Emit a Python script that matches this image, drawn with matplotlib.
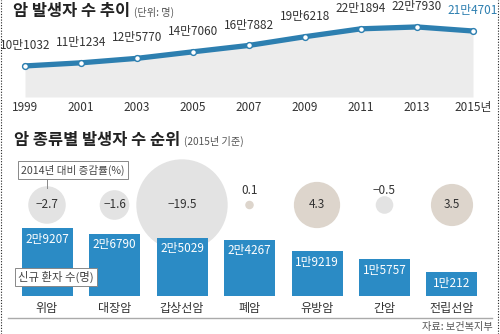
import matplotlib
matplotlib.use('Agg')
import matplotlib.pyplot as plt
from matplotlib.lines import Line2D
from matplotlib.transforms import blended_transform_factory

plt.rcParams['font.family'] = ['Noto Sans CJK KR', 'DejaVu Sans']

# 암 발생자 수 추이
years = [1999, 2001, 2003, 2005, 2007, 2009, 2011, 2013, 2015]
patients = [101032, 111234, 125770, 147060, 167882, 196218, 221894, 227930, 214701]
year_labels = ['1999', '2001', '2003', '2005', '2007', '2009', '2011', '2013', '2015년']

# 암 종류별 (2015년 기준)
cancers = ['위암', '대장암', '갑상선암', '폐암', '유방암', '간암', '전립선암']
new_cases = [29207, 26790, 25029, 24267, 19219, 15757, 10212]
change = [-2.7, -1.6, -19.5, 0.1, 4.3, -0.5, 3.5]

W, H = 500, 334
DARK = '#333333'
LINE_C = '#2d7fb0'
BAR_C = '#2b8bc5'


def man(v):
    return '%d만%d' % (v // 10000, v % 10000)


def px_axes(fig, left, top, right, bottom):
    return fig.add_axes([left / W, 1 - bottom / H, (right - left) / W, (bottom - top) / H])


fig = plt.figure(figsize=(W / 100, H / 100), dpi=100)

# ---- 추이 선그래프 ----
ax1 = px_axes(fig, 0, 20, 500, 97)
x0, step = 25, 28.0
ax1.set_xlim(years[0] - x0 / step, years[0] + (W - x0) / step)
ax1.set_ylim(0, 77 * 3254)
ax1.fill_between(years, patients, 0, color='#ececec', lw=0, zorder=1)
ax1.plot(years, patients, color=LINE_C, lw=3.8, solid_capstyle='round', zorder=2)
ax1.plot(years, patients, 'o', ms=4.2, mfc='white', mec=LINE_C, mew=1.0, zorder=3)
for i, (x, y) in enumerate(zip(years, patients)):
    c = LINE_C if i == len(years) - 1 else DARK
    ax1.annotate(man(y), (x, y), xytext=(0, 10), textcoords='offset points',
                 ha='center', va='bottom', fontsize=8.5, color=c, clip_on=False)
ax1.set_xticks(years)
ax1.set_xticklabels(year_labels, fontsize=8.5, color=DARK)
ax1.tick_params(axis='x', length=0, pad=3)
ax1.set_yticks([])
for s in ax1.spines.values():
    s.set_visible(False)
ax1.patch.set_alpha(0)

# ---- 종류별 막대 + 증감률 원 ----
ax2 = px_axes(fig, 0, 150, 500, 296)
cx0, cstep = 47, 67.5
ax2.set_xlim(-cx0 / cstep, (W - cx0) / cstep)
ax2.set_ylim(0, 146 * 430)
xs = list(range(len(cancers)))

trans = blended_transform_factory(ax2.transData, ax2.transAxes)
by = (296 - 205) / 146.0
# 원 반지름(px) = 12 * |증감률|^0.45
sizes = [(1.44 * 12 * abs(v) ** 0.45) ** 2 for v in change]
colors = ['#e3e3e3' if v < 0 else '#ddd5cc' for v in change]
ax2.scatter(xs, [by] * len(xs), s=sizes, c=colors, transform=trans, lw=0, zorder=1, clip_on=False)
for x, v in zip(xs, change):
    txt = ('%.1f' % v).replace('-', '−')
    ty = by + 15 / 146.0 if abs(v) < 1 else by
    ax2.text(x, ty, txt, transform=trans, ha='center', va='center',
             fontsize=8.5, color=DARK)

ax2.bar(xs, new_cases, width=51 / cstep, color=BAR_C, zorder=2)
for x, v in zip(xs, new_cases):
    ax2.annotate(man(v), (x, v), xytext=(0, -8), textcoords='offset points',
                 ha='center', va='center', fontsize=8.5, color='white', zorder=3)
ax2.set_xticks(xs)
ax2.set_xticklabels(cancers, fontsize=8.7, color=DARK)
ax2.tick_params(axis='x', length=0, pad=4)
ax2.set_yticks([])
for s in ax2.spines.values():
    s.set_visible(False)
ax2.patch.set_alpha(0)

# ---- 제목, 상자, 출처 ----
ov = fig.add_axes([0, 0, 1, 1], zorder=5)
ov.set_xlim(0, W)
ov.set_ylim(H, 0)
ov.axis('off')
ov.patch.set_alpha(0)

t1 = ov.text(13, 11, '암 발생자 수 추이', fontsize=11.8, fontweight='bold', color='#222222',
             va='center', ha='left')
ov.annotate('(단위: 명)', xy=(1, 0.4), xycoords=t1, xytext=(3, 0), textcoords='offset points',
            fontsize=7.3, color='#555555', va='center', ha='left')
t2 = ov.text(14, 140, '암 종류별 발생자 수 순위', fontsize=11.8, fontweight='bold', color='#222222',
             va='center', ha='left')
ov.annotate('(2015년 기준)', xy=(1, 0.4), xycoords=t2, xytext=(3, 0), textcoords='offset points',
            fontsize=7.3, color='#555555', va='center', ha='left')

ov.text(73, 170, '2014년 대비 증감률(%)', fontsize=7.6, color='#444444', ha='center', va='center',
        bbox=dict(boxstyle='square,pad=0.3', fc='white', ec='#888888', lw=0.7))
ov.plot([47, 47], [178, 188], color='#888888', lw=0.7)
ov.text(56, 277, '신규 환자 수(명)', fontsize=8.2, color='#444444', ha='center', va='center',
        bbox=dict(boxstyle='square,pad=0.3', fc='white', ec='#888888', lw=0.7))

ov.plot([8, 492], [318, 318], color='#aaaaaa', lw=1)
ov.text(493, 327, '자료: 보건복지부', fontsize=7.3, color='#555555', ha='right', va='center')

# 양쪽 점선 테두리
for xb in (1, 498):
    fig.add_artist(Line2D([xb / W, xb / W], [0, 1], color='#222222', lw=0.8, ls=(0, (1, 1.5))))

fig.savefig('out.png', dpi=100)
